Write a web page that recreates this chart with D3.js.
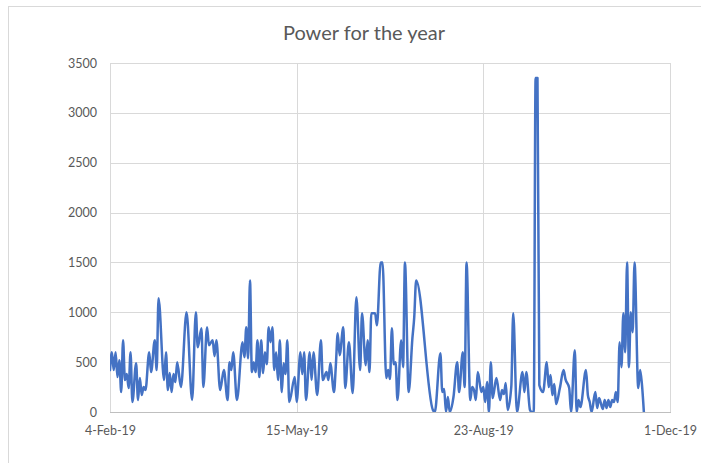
<!DOCTYPE html>
<html><head><meta charset="utf-8">
<script src="https://cdn.jsdelivr.net/npm/d3@7"></script>
<style>body{margin:0;background:#fff;} svg{display:block;}</style>
</head><body>
<svg id="chart" width="701" height="463"></svg>
<script>
const title = "Power for the year";
const dates = [
"2019-02-04","2019-02-05","2019-02-06","2019-02-07","2019-02-08","2019-02-09","2019-02-10","2019-02-11","2019-02-12","2019-02-13",
"2019-02-14","2019-02-15","2019-02-16","2019-02-18","2019-02-19","2019-02-20","2019-02-21","2019-02-22","2019-02-23","2019-02-25",
"2019-02-26","2019-02-28","2019-03-01","2019-03-02","2019-03-05","2019-03-06","2019-03-07","2019-03-08","2019-03-09","2019-03-10",
"2019-03-11","2019-03-12","2019-03-14","2019-03-17","2019-03-20","2019-03-22","2019-03-23","2019-03-25","2019-03-26","2019-03-28",
"2019-03-29","2019-03-31","2019-04-01","2019-04-02","2019-04-04","2019-04-06","2019-04-08","2019-04-09","2019-04-10","2019-04-11",
"2019-04-13","2019-04-16","2019-04-17","2019-04-18","2019-04-19","2019-04-20","2019-04-21","2019-04-22","2019-04-23","2019-04-24",
"2019-04-25","2019-04-26","2019-04-27","2019-04-28","2019-04-29","2019-04-30","2019-05-01","2019-05-02","2019-05-03","2019-05-04",
"2019-05-05","2019-05-06","2019-05-07","2019-05-08","2019-05-09","2019-05-10","2019-05-11","2019-05-14","2019-05-15","2019-05-17",
"2019-05-18","2019-05-19","2019-05-20","2019-05-22","2019-05-23","2019-05-24","2019-05-26","2019-05-28","2019-05-29","2019-05-31",
"2019-06-01","2019-06-02","2019-06-04","2019-06-05","2019-06-06","2019-06-07","2019-06-09","2019-06-10","2019-06-12","2019-06-14",
"2019-06-16","2019-06-18","2019-06-19","2019-06-21","2019-06-22","2019-06-23","2019-06-24","2019-06-26","2019-06-27","2019-06-29",
"2019-06-30","2019-07-02","2019-07-03","2019-07-04","2019-07-05","2019-07-06","2019-07-07","2019-07-08","2019-07-10","2019-07-11",
"2019-07-12","2019-07-14","2019-07-16","2019-07-17","2019-07-18","2019-07-27","2019-07-28","2019-07-31","2019-08-01","2019-08-02",
"2019-08-03","2019-08-04","2019-08-05","2019-08-07","2019-08-09","2019-08-10","2019-08-12","2019-08-13","2019-08-14","2019-08-16",
"2019-08-17","2019-08-18","2019-08-19","2019-08-20","2019-08-22","2019-08-23","2019-08-24","2019-08-25","2019-08-26","2019-08-27",
"2019-08-28","2019-08-30","2019-09-01","2019-09-02","2019-09-03","2019-09-04","2019-09-05","2019-09-07","2019-09-08","2019-09-10",
"2019-09-13","2019-09-14","2019-09-15","2019-09-17","2019-09-18","2019-09-19","2019-09-20","2019-09-21","2019-09-22","2019-09-24",
"2019-09-26","2019-09-27","2019-09-28","2019-09-29","2019-09-30","2019-10-01","2019-10-03","2019-10-05","2019-10-06","2019-10-08",
"2019-10-09","2019-10-11","2019-10-12","2019-10-13","2019-10-14","2019-10-17","2019-10-18","2019-10-19","2019-10-20","2019-10-22",
"2019-10-23","2019-10-24","2019-10-26","2019-10-27","2019-10-28","2019-10-29","2019-10-30","2019-10-31","2019-11-01","2019-11-02",
"2019-11-03","2019-11-04","2019-11-05","2019-11-06","2019-11-07","2019-11-08","2019-11-09","2019-11-10","2019-11-11","2019-11-12",
"2019-11-14","2019-11-15","2019-11-16","2019-11-17"
];
const power = [
420,600,420,600,350,520,200,720,320,380,
240,600,100,490,120,340,170,250,220,600,
400,720,420,1140,320,600,220,390,200,380,
300,500,250,1000,120,1000,650,840,250,850,
670,720,560,720,220,420,120,500,420,600,
120,700,550,850,540,1320,400,500,400,720,
350,720,390,600,480,850,700,850,420,600,
320,720,200,490,380,720,100,350,100,600,
380,600,120,600,320,600,170,720,320,400,
320,490,200,470,790,570,850,240,700,190,
1150,420,990,470,720,400,990,990,870,1500,
1500,340,420,330,840,480,500,120,720,450,
1500,200,740,955,1320,20,0,590,200,230,
0,150,0,150,500,200,600,250,1500,120,
250,220,120,400,200,250,100,300,0,500,
140,340,120,220,180,290,20,260,990,0,
400,200,400,20,0,0,3350,3350,270,200,
500,250,370,170,280,80,240,420,330,240,
0,620,0,120,50,420,170,100,0,200,
40,140,30,120,40,120,50,120,100,200,
100,700,450,990,600,1500,450,1000,800,1500,
240,420,270,0
];
const yTicks = [0,500,1000,1500,2000,2500,3000,3500];
const xTicks = ["2019-02-04","2019-05-15","2019-08-23","2019-12-01"];

const parse = d3.timeParse("%Y-%m-%d");
const data = dates.map((d,i)=>({date:parse(d), value:power[i]}));

const svg = d3.select("#chart");
const L=110, R=670, T=63, B=412;
const x = d3.scaleTime().domain([parse(xTicks[0]), parse(xTicks[xTicks.length-1])]).range([L,R]);
const y = d3.scaleLinear().domain([0,3500]).range([B,T]);

// chart area border
svg.append("rect").attr("x",8.5).attr("y",6.5).attr("width",720).attr("height",520)
  .attr("fill","#fff").attr("stroke","#d9d9d9").attr("stroke-width",1);

// title
svg.append("text").attr("x",364).attr("y",40).attr("text-anchor","middle")
  .attr("font-family","Lato, 'Open Sans', sans-serif").attr("font-size",20)
  .attr("fill","#595959").text(title);

// horizontal grid + y labels
const yAxis = svg.append("g").attr("transform",`translate(${L},0)`)
  .call(d3.axisLeft(y).tickValues(yTicks).tickFormat(d3.format("d")).tickSize(-(R-L)).tickPadding(13));
yAxis.select(".domain").remove();
yAxis.selectAll("line").attr("stroke","#d9d9d9").attr("shape-rendering","crispEdges");
yAxis.selectAll("text").attr("font-family","Lato, sans-serif").attr("font-size",12.5).attr("fill","#595959");

// vertical grid + x labels
const xAxis = svg.append("g").attr("transform",`translate(0,${B})`)
  .call(d3.axisBottom(x).tickValues(xTicks.map(parse)).tickFormat(d3.timeFormat("%-d-%b-%y"))
    .tickSize(-(B-T)).tickPadding(14));
xAxis.select(".domain").attr("stroke","#bfbfbf").attr("shape-rendering","crispEdges");
xAxis.selectAll("line").attr("stroke","#d9d9d9").attr("shape-rendering","crispEdges");
xAxis.selectAll("text").attr("font-family","Lato, sans-serif").attr("font-size",12.5).attr("fill","#595959");

// clip
svg.append("clipPath").attr("id","plotclip").append("rect")
  .attr("x",L).attr("y",T-2).attr("width",R-L).attr("height",B-T+2);

const line = d3.line().x(d=>x(d.date)).y(d=>y(d.value)).curve(d3.curveMonotoneX);
svg.append("path").datum(data).attr("clip-path","url(#plotclip)")
  .attr("d",line).attr("fill","none").attr("stroke","#4472C4")
  .attr("stroke-width",2.5).attr("stroke-linejoin","round").attr("stroke-linecap","round");
</script>
</body></html>
